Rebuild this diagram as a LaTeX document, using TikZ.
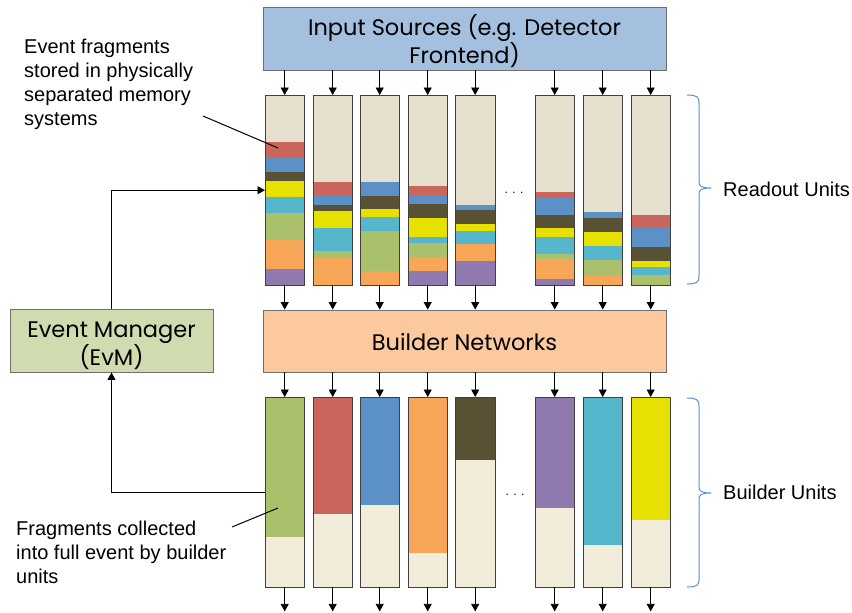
\documentclass[tikz,border=0pt]{standalone}
\usepackage{fontspec}
\setmainfont{Liberation Sans}
\newfontfamily\boxfont{Poppins}
\usetikzlibrary{arrows.meta}
\definecolor{inpblue}{HTML}{A5C0DF}
\definecolor{bnpeach}{HTML}{FBC99D}
\definecolor{evmgreen}{HTML}{D0DBB0}
\definecolor{robeige}{HTML}{E5E0CD}
\definecolor{bubeige}{HTML}{F2EDDB}
\definecolor{cred}{HTML}{C9655A}
\definecolor{cblue}{HTML}{5B91C6}
\definecolor{cdark}{HTML}{585133}
\definecolor{cyel}{HTML}{E6E100}
\definecolor{ccyan}{HTML}{56B6CC}
\definecolor{cgreen}{HTML}{AAC06A}
\definecolor{corange}{HTML}{F7A658}
\definecolor{cpurple}{HTML}{9079AF}
\definecolor{bracecol}{HTML}{5B8FCF}
\definecolor{bordgray}{HTML}{6F6F6F}
\newcommand{\topstrut}{\rule{0pt}{26pt}}
\tikzset{
  bigbox/.style={draw=bordgray, line width=0.9pt, inner sep=0pt, align=center,
    font=\boxfont\fontsize{22.5}{26}\selectfont},
  colnode/.style={anchor=north west, inner sep=0pt, minimum width=39pt},
  colborder/.style={draw=black!75, line width=0.8pt},
  arr/.style={-{Triangle[length=7.5pt,width=8pt]}, line width=0.8pt},
  conn/.style={line width=1pt},
  lbl/.style={font=\fontsize{20}{24}\selectfont, inner sep=0pt, align=left},
  dotsstyle/.style={font=\fontsize{12}{12}\selectfont, inner sep=0pt},
  bracestyle/.style={draw=bracecol, line width=1pt},
}
\begin{document}
\begin{tikzpicture}[x=1pt,y=-1pt]
\useasboundingbox (0,0) rectangle (852,613);
% big boxes
\node[bigbox, fill=inpblue, minimum width=403pt, minimum height=63pt] (inp) at (464.5,38.5)
  {\topstrut Input Sources (e.g. Detector\\Frontend)};
\node[bigbox, fill=bnpeach, minimum width=403pt, minimum height=62pt] (bn) at (464.5,341)
  {\rule{0pt}{20pt}Builder Networks};
\node[bigbox, fill=evmgreen, minimum width=203pt, minimum height=63pt] (evm) at (111.5,340.5)
  {\topstrut Event Manager\\(EvM)};
% readout units
\foreach \i/\x in {1/265,2/313,3/360,4/408,5/455.5,6/535,7/583,8/631}{
  \node[colnode, fill=robeige, minimum height=190pt] (ro\i) at (\x,95) {};
  \node[colnode, fill=bubeige, minimum height=190pt] (bu\i) at (\x,397) {};
}
\newcommand{\stripes}[2]{%
  \foreach \c/\a/\b in {#2}{\fill[\c] (#1.north west |- 0,\a) rectangle (#1.north east |- 0,\b);}}
\stripes{ro1}{cred/141.7/157.7, cblue/157.7/172.3, cdark/172.3/180.7, cyel/180.7/197, ccyan/197/213.3, cgreen/213.3/240, corange/240/268.7, cpurple/268.7/285}
\stripes{ro2}{cred/182/196, cblue/196/205, cdark/205/211, cyel/211/227.7, ccyan/227.7/250.7, cgreen/250.7/258.3, corange/258.3/285}
\stripes{ro3}{cblue/181.7/195.7, cdark/195.7/209.3, cyel/209.3/217.3, ccyan/217.3/231, cgreen/231/270.7, corange/270.7/285}
\stripes{ro4}{cred/186.3/195, cblue/195/204.3, cdark/204.3/218.3, cyel/218.3/237.3, ccyan/237.3/243, cgreen/243/257, corange/257/270.7, cpurple/270.7/285}
\stripes{ro5}{cblue/205/210.3, cdark/210.3/224.3, cyel/224.3/230.7, ccyan/230.7/244.3, corange/244.3/260.7, cpurple/260.7/285}
\stripes{ro6}{cred/192.3/198.3, cblue/198.3/214.7, cdark/214.7/228.3, cyel/228.3/237.3, ccyan/237.3/253.7, cgreen/253.7/259.3, corange/259.3/279, cpurple/279/285}
\stripes{ro7}{cblue/212/218.3, cdark/218.3/232, cyel/232/246.3, ccyan/246.3/259.7, cgreen/259.7/276, corange/276/285}
\stripes{ro8}{cred/215/228, cblue/228/247.3, cdark/247.3/260.7, cyel/260.7/266.7, ccyan/266.7/275.3, cgreen/275.3/285}
% builder units
\stripes{bu1}{cgreen/397/536.7}
\stripes{bu2}{cred/397/514.3}
\stripes{bu3}{cblue/397/504.7}
\stripes{bu4}{corange/397/553.3}
\stripes{bu5}{cdark/397/460}
\stripes{bu6}{cpurple/397/507.7}
\stripes{bu7}{ccyan/397/545}
\stripes{bu8}{cyel/397/519.7}
\foreach \i in {1,...,8}{
  \draw[colborder] (ro\i.north west) rectangle (ro\i.south east);
  \draw[colborder] (bu\i.north west) rectangle (bu\i.south east);
  \draw[arr] (inp.south -| ro\i.north) -- (ro\i.north);
  \draw[arr] (ro\i.south) -- (bn.north -| ro\i.south);
  \draw[arr] (bn.south -| bu\i.north) -- (bu\i.north);
  \coordinate (out\i) at ([yshift=-24pt]bu\i.south);
  \draw[arr] (bu\i.south) -- (out\i);
}
% dots
\node[dotsstyle] (dots1) at (514,193) {. . .};
\node[dotsstyle] (dots2) at (515,495) {. . .};
% event manager connections
\draw[arr] (bu1.west) -| (evm.south);
\draw[arr] (evm.north) |- (ro1.west);
% labels
\node[lbl, anchor=north west] (lab1) at (24,38.5)
  {Event fragments\\stored in physically\\separated memory\\systems};
\coordinate (p1) at (203,116);
\coordinate (p1e) at (278,148);
\draw[conn] (p1) -- (p1e);
\node[lbl, anchor=north west] (lab2) at (16,521)
  {Fragments collected\\into full event by builder\\units};
\coordinate (p2) at (232,527);
\coordinate (p2e) at (278,508);
\draw[conn] (p2) -- (p2e);
% braces
\draw[bracestyle] (687,95) .. controls (697,95) and (699,97) .. (699,103) -- (699,182)
  .. controls (699,186) and (701,188) .. (711,188) .. controls (701,188) and (699,190) .. (699,194)
  -- (699,276) .. controls (699,282) and (697,284) .. (687,284);
\draw[bracestyle] (687,398) .. controls (697,398) and (699,400) .. (699,406) -- (699,487)
  .. controls (699,491) and (701,493) .. (711,493) .. controls (701,493) and (699,495) .. (699,499)
  -- (699,580) .. controls (699,585) and (697,587) .. (687,587);
\node[lbl, anchor=west] (rul) at (723,189) {Readout Units};
\node[lbl, anchor=west] (bul) at (723,492) {Builder Units};
\end{tikzpicture}
\end{document}
